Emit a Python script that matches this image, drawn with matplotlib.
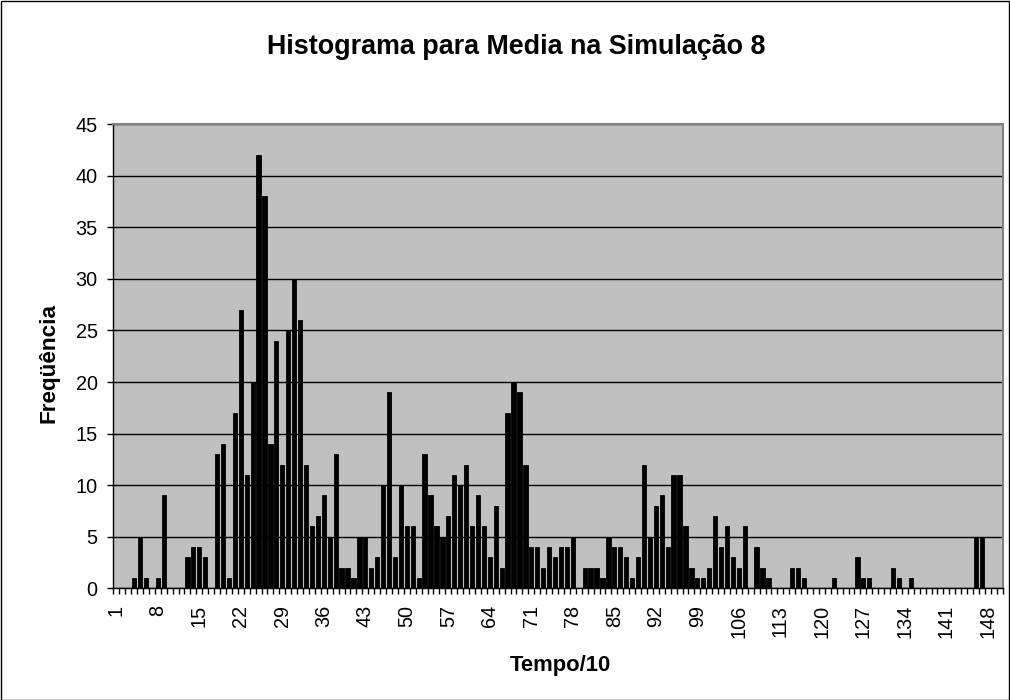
import matplotlib
matplotlib.use("Agg")
import matplotlib.pyplot as plt
from matplotlib.patches import Rectangle
from matplotlib.ticker import FixedLocator, NullFormatter

categories = list(range(1, 151))
freq = {
    4: 1, 5: 5, 6: 1, 8: 1, 9: 9,
    13: 3, 14: 4, 15: 4, 16: 3,
    18: 13, 19: 14, 20: 1, 21: 17, 22: 27, 23: 11, 24: 20, 25: 42, 26: 38, 27: 14,
    28: 24, 29: 12, 30: 25, 31: 30, 32: 26, 33: 12, 34: 6, 35: 7, 36: 9, 37: 5,
    38: 13, 39: 2, 40: 2, 41: 1, 42: 5, 43: 5, 44: 2, 45: 3, 46: 10, 47: 19,
    48: 3, 49: 10, 50: 6, 51: 6, 52: 1, 53: 13, 54: 9, 55: 6, 56: 5, 57: 7,
    58: 11, 59: 10, 60: 12, 61: 6, 62: 9, 63: 6, 64: 3, 65: 8, 66: 2, 67: 17,
    68: 20, 69: 19, 70: 12, 71: 4, 72: 4, 73: 2, 74: 4, 75: 3, 76: 4, 77: 4,
    78: 5, 80: 2, 81: 2, 82: 2, 83: 1, 84: 5, 85: 4, 86: 4, 87: 3, 88: 1,
    89: 3, 90: 12, 91: 5, 92: 8, 93: 9, 94: 4, 95: 11, 96: 11, 97: 6, 98: 2,
    99: 1, 100: 1, 101: 2, 102: 7, 103: 4, 104: 6, 105: 3, 106: 2, 107: 6,
    109: 4, 110: 2, 111: 1, 115: 2, 116: 2, 117: 1, 122: 1, 126: 3, 127: 1,
    128: 1, 132: 2, 133: 1, 135: 1, 146: 5, 147: 5,
}
values = [freq.get(c, 0) for c in categories]
tick_labels = [str(c) for c in categories[::7]]
tick_positions = categories[::7]

title = "Histograma para Media na Simulação 8"
xlabel = "Tempo/10"
ylabel = "Freqüência"

plt.rcParams['font.family'] = ['Liberation Sans', 'DejaVu Sans']

W, H = 1010, 700
fig = plt.figure(figsize=(W / 100, H / 100), dpi=100)
fig.patch.set_facecolor('white')
fig.patches.append(Rectangle((0.5 / W, 0.5 / H), 1 - 1.5 / W, 1 - 1.5 / H,
                             transform=fig.transFigure, fill=False,
                             edgecolor='black', linewidth=1.0))

left, right, top, bottom = 113.3, 1002.7, 124.2, 588.3
ax = fig.add_axes([left / W, (H - bottom) / H, (right - left) / W, (bottom - top) / H])
ax.set_facecolor('#C0C0C0')

ax.bar(categories, values, width=0.72, color='black', edgecolor='black',
       linewidth=0.6, zorder=3)

ax.set_xlim(0.5, 150.5)
ax.set_ylim(0, 45)
ax.set_yticks(range(0, 46, 5))
ax.yaxis.grid(True, color='black', linewidth=1.0, zorder=1)
ax.set_axisbelow(True)

ax.set_xticks(tick_positions)
ax.set_xticklabels(tick_labels, rotation=90, fontsize=14.3)
ax.xaxis.set_minor_locator(FixedLocator([c + 0.5 for c in [0] + categories]))
ax.xaxis.set_minor_formatter(NullFormatter())
ax.tick_params(axis='x', which='major', length=0, pad=12)
ax.tick_params(axis='x', which='minor', length=4.3, width=1, color='black', direction='out')
ax.tick_params(axis='y', which='major', length=4.3, width=1, labelsize=14.3, pad=7)

for s in ['top', 'right']:
    ax.spines[s].set_color('#808080')
    ax.spines[s].set_linewidth(1.5)
for s in ['left', 'bottom']:
    ax.spines[s].set_color('black')
    ax.spines[s].set_linewidth(1.0)

fig.text(516 / W, 1 - 47 / H, title, ha='center', va='center',
         fontsize=19.4, fontweight='bold')
fig.text(560 / W, 1 - 665 / H, xlabel, ha='center', va='center',
         fontsize=15.8, fontweight='bold')
fig.text(49 / W, 1 - 362.5 / H, ylabel, ha='center', va='center',
         fontsize=16.2, fontweight='bold', rotation=90)

fig.savefig('out.png', dpi=100)
